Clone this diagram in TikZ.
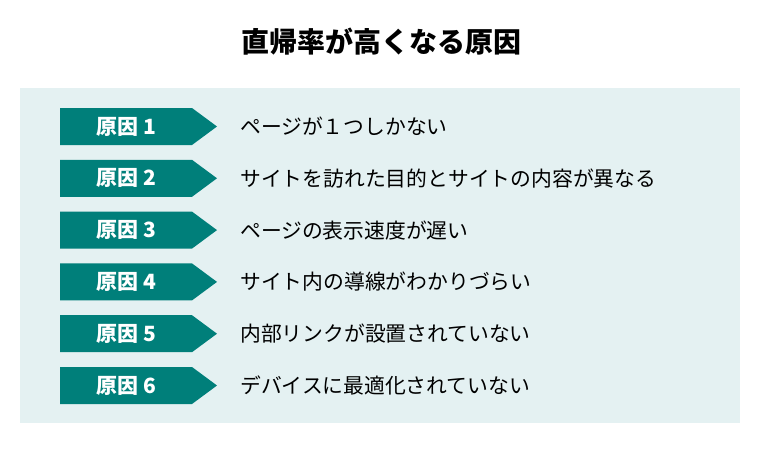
\documentclass[tikz,border=0pt]{standalone}
\usepackage{fontspec}
\setmainfont{Noto Sans CJK JP}
\definecolor{teal1}{HTML}{007F7A}
\definecolor{panel}{HTML}{E4F1F2}
\begin{document}
\begin{tikzpicture}[x=1pt,y=-1pt,
  labeltext/.style={text=white,font=\fontsize{21}{24}\selectfont\bfseries,anchor=center},
  itemtext/.style={text=black,font=\fontsize{20.8}{24}\selectfont,anchor=west,inner sep=0pt}]
\useasboundingbox (0,0) rectangle (760,450);
\fill[white] (0,0) rectangle (760,450);
\node[font=\fontsize{28}{32}\selectfont\bfseries] (title) at (381,42) {直帰率が高くなる原因};
\fill[panel] (20,88) rectangle (740,423);
\foreach \i/\t in {1/ページが１つしかない,2/サイトを訪れた目的とサイトの内容が異なる,3/ページの表示速度が遅い,4/サイト内の導線がわかりづらい,5/内部リンクが設置されていない,6/デバイスに最適化されていない}{
  \pgfmathsetmacro{\yc}{126.5+(\i-1)*51.8}
  \fill[teal1] (60,\yc-18.5) -- (192,\yc-18.5) -- (217,\yc) -- (192,\yc+18.5) -- (60,\yc+18.5) -- cycle;
  \node[labeltext] (lab\i) at (126,\yc) {原因 \i};
  \node[itemtext] (item\i) at (240,\yc) {\t};
}
\end{tikzpicture}
\end{document}
